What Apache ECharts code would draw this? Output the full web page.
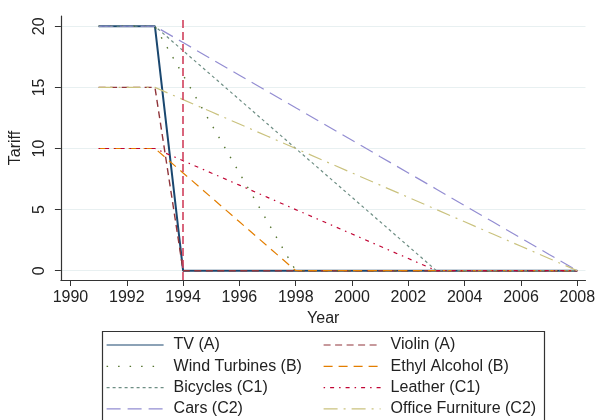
<!DOCTYPE html>
<html>
<head>
<meta charset="utf-8">
<script src="https://cdn.jsdelivr.net/npm/echarts@6/dist/echarts.min.js"></script>
<style>
  html, body { margin: 0; padding: 0; background: #fff; }
  #chart { width: 598px; height: 420px; }
</style>
</head>
<body>
<div id="chart"></div>
<script>
// tariff phase-out by product, 1991-2008
var years = [1991, 1992, 1993, 1994, 1995, 1996, 1997, 1998, 1999, 2000, 2001, 2002, 2003, 2004, 2005, 2006, 2007, 2008];
var xTicks = [1990, 1992, 1994, 1996, 1998, 2000, 2002, 2004, 2006, 2008];
var yTicks = [0, 5, 10, 15, 20];
var reformYear = 1994;

var tv            = [20, 20, 20, 0, 0, 0, 0, 0, 0, 0, 0, 0, 0, 0, 0, 0, 0, 0];
var violin        = [15, 15, 15, 0, 0, 0, 0, 0, 0, 0, 0, 0, 0, 0, 0, 0, 0, 0];
var windTurbines  = [20, 20, 20, 16, 12, 8, 4, 0, 0, 0, 0, 0, 0, 0, 0, 0, 0, 0];
var ethylAlcohol  = [10, 10, 10, 8, 6, 4, 2, 0, 0, 0, 0, 0, 0, 0, 0, 0, 0, 0];
var bicycles      = [20, 20, 20, 18, 16, 14, 12, 10, 8, 6, 4, 2, 0, 0, 0, 0, 0, 0];
var leather       = [10, 10, 10, 9, 8, 7, 6, 5, 4, 3, 2, 1, 0, 0, 0, 0, 0, 0];
var cars          = [20, 20, 20, 18.67, 17.33, 16, 14.67, 13.33, 12, 10.67, 9.33, 8, 6.67, 5.33, 4, 2.67, 1.33, 0];
var officeFurn    = [15, 15, 15, 14, 13, 12, 11, 10, 9, 8, 7, 6, 5, 4, 3, 2, 1, 0];

var font = 'Liberation Sans, Arial, sans-serif';
var txt = '#222';

function pairs(vals) {
  return years.map(function (y, i) { return [y, vals[i]]; });
}

function line(name, vals, color, dash, width) {
  return {
    name: name,
    type: 'line',
    data: pairs(vals),
    symbol: 'none',
    lineStyle: { color: color, width: width || 1.2, type: dash },
    itemStyle: { color: color }
  };
}

var series = [
  line('TV (A)', tv, '#1a476f', 'solid', 2),
  line('Violin (A)', violin, '#90353b', [7, 4.5], 1.4),
  line('Wind Turbines (B)', windTurbines, '#55752f', [1.5, 10], 1.4),
  line('Ethyl Alcohol (B)', ethylAlcohol, '#e37e00', [9, 6]),
  line('Bicycles (C1)', bicycles, '#6e8e84', [3, 3]),
  line('Leather (C1)', leather, '#c10534', [1.5, 5, 4, 5]),
  line('Cars (C2)', cars, '#938dd2', [14, 7]),
  line('Office Furniture (C2)', officeFurn, '#cac27e', [14, 6, 2, 6])
];
series[series.length - 1].markLine = {
  silent: true,
  symbol: 'none',
  label: { show: false },
  lineStyle: { color: '#d0405c', width: 1.6, type: [8, 4] },
  data: [{ xAxis: reformYear }]
};

// two-column legend box, one legend per entry so the columns line up
var legends = series.map(function (s, i) {
  return {
    left: i % 2 === 0 ? 106 : 323,
    top: 336 + Math.floor(i / 2) * 21.3,
    padding: 0,
    itemWidth: 57,
    itemHeight: 14,
    selectedMode: false,
    itemStyle: { opacity: 0 },
    lineStyle: { width: 1.2 },
    textStyle: { fontFamily: font, fontSize: 16, color: txt, lineHeight: 18, padding: [0, 0, 0, 5] },
    data: [s.name]
  };
});

var chart = echarts.init(document.getElementById('chart'));
chart.setOption({
  animation: false,
  backgroundColor: '#fff',
  grid: { left: 54, right: 11, top: 16, bottom: 140, containLabel: false },
  xAxis: {
    type: 'value',
    min: 1989.66,
    max: 2008.29,
    name: 'Year',
    nameLocation: 'middle',
    nameGap: 27,
    nameTextStyle: { fontFamily: font, fontSize: 16, color: txt },
    axisLine: { onZero: false, lineStyle: { color: '#333', width: 1.2 } },
    axisTick: { customValues: xTicks, length: 6, lineStyle: { color: '#333' } },
    axisLabel: {
      customValues: xTicks, margin: 10, fontFamily: font, fontSize: 16, color: txt,
      formatter: function (v) { return String(v); }
    },
    splitLine: { show: false }
  },
  yAxis: {
    type: 'value',
    min: -0.76,
    max: 20.84,
    name: 'Tariff',
    nameLocation: 'middle',
    nameGap: 25,
    nameTextStyle: { fontFamily: font, fontSize: 16, color: txt },
    axisLine: { show: true, onZero: false, lineStyle: { color: '#333', width: 1.2 } },
    axisTick: { show: true, customValues: yTicks, length: 6, lineStyle: { color: '#333' } },
    axisLabel: { customValues: yTicks, rotate: 90, margin: 13, fontFamily: font, fontSize: 16, color: txt },
    splitLine: { show: true, lineStyle: { color: '#e8f0f1', width: 1.2 } }
  },
  legend: legends,
  graphic: [{
    type: 'rect',
    left: 100, top: 329,
    shape: { width: 442, height: 120 },
    style: { fill: null, stroke: '#333', lineWidth: 1.2 },
    silent: true
  }],
  series: series
});
</script>
</body>
</html>
